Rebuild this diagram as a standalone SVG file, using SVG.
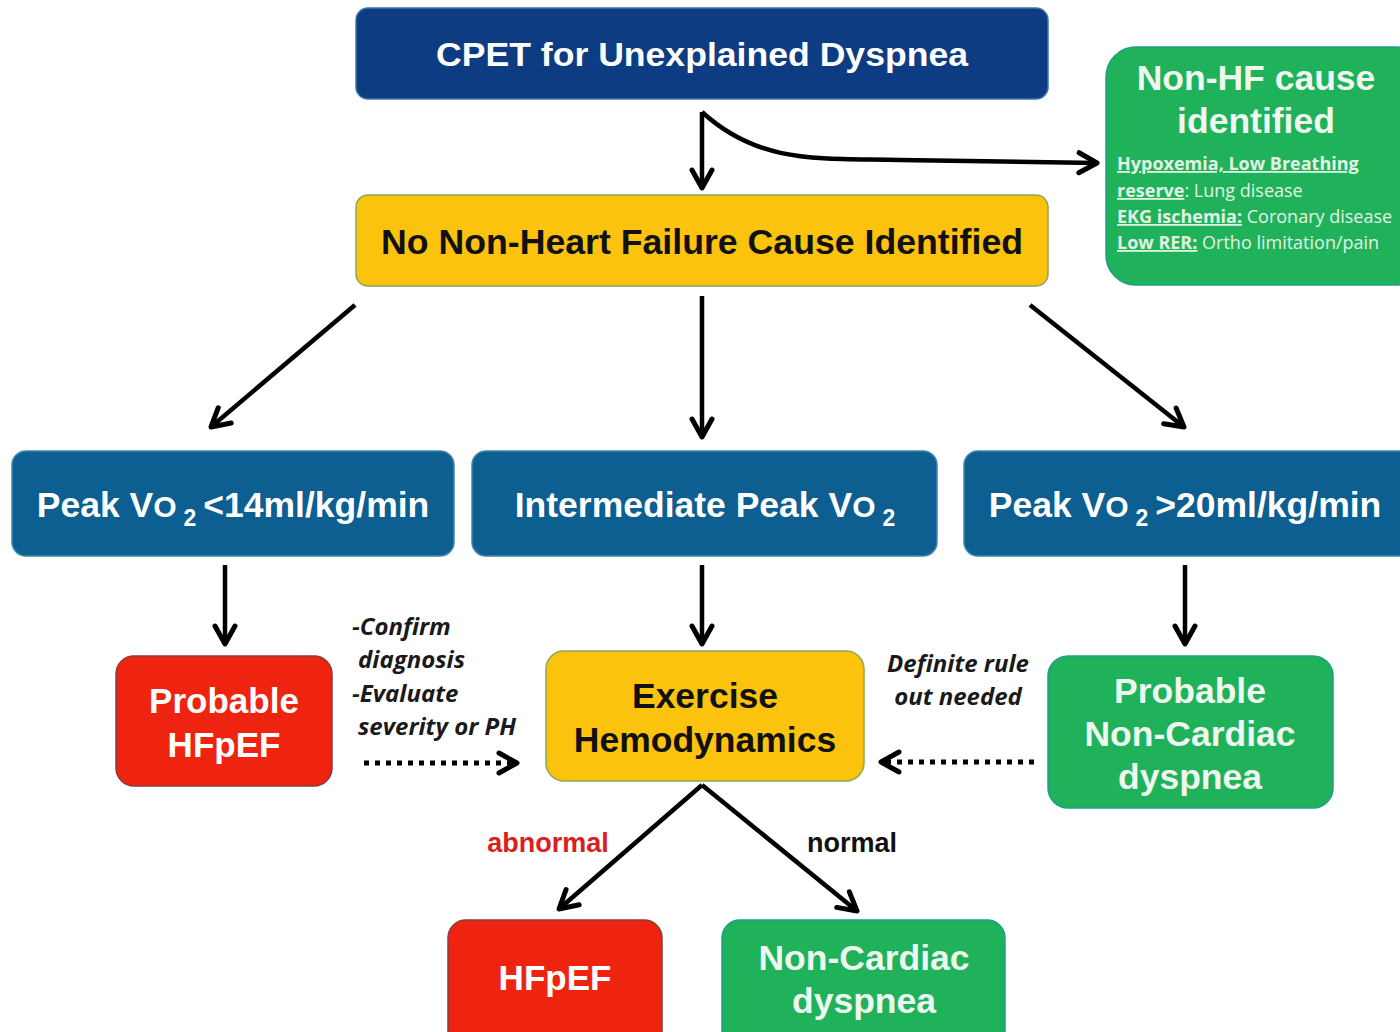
<svg xmlns="http://www.w3.org/2000/svg" width="1400" height="1032" viewBox="0 0 1400 1032">
<style>
  .navy{fill:#0e3c82;stroke:#3a78a8;stroke-width:1.5}
  .blue{fill:#0c5f90;stroke:#3f86ad;stroke-width:1.5}
  .yellow{fill:#fbc20e;stroke:#8fa653;stroke-width:1.5}
  .red{fill:#ef2410;stroke:#8b3b3b;stroke-width:1.5}
  .green{fill:#1fb25b;stroke:#1e9e86;stroke-width:1.5}
  .t{font-family:"Liberation Sans",Arial,sans-serif;font-weight:bold;text-anchor:middle}
  .w{fill:#ffffff}
  .lg{fill:#eef8ef}
  .k{fill:#111111}
  .note{font-family:"Open Sans","Liberation Sans",sans-serif;font-size:18px;fill:#e2f3e4}
  .nb{font-weight:bold;text-decoration:underline}
  .it{font-family:"Open Sans","Liberation Sans",sans-serif;font-weight:bold;font-style:italic;font-size:24px;fill:#1a1a1a}
  .arr{fill:none;stroke:#000;stroke-width:4.5;marker-end:url(#ah)}
  .dot{fill:none;stroke:#000;stroke-width:5;stroke-dasharray:5 6;marker-end:url(#ah)}
</style>
<defs>
  <marker id="ah" viewBox="0 0 26 26" refX="23" refY="13" markerWidth="26" markerHeight="26" markerUnits="userSpaceOnUse" orient="auto">
    <path d="M5,3 L23,13 L5,23" fill="none" stroke="#000" stroke-width="5" stroke-linecap="round" stroke-linejoin="round"/>
  </marker>
</defs>
<rect width="1400" height="1032" fill="#ffffff"/>

<g id="connectors">
  <path class="arr" d="M702,112 L702,188"/>
  <path class="arr" d="M702,112 C760,165 820,158 900,160 L1097,163"/>
  <path class="arr" d="M355,305 L211,427"/>
  <path class="arr" d="M702,296 L702,437"/>
  <path class="arr" d="M1030,305 L1184,427"/>
  <path class="arr" d="M225,565 L225,644"/>
  <path class="arr" d="M702,565 L702,644"/>
  <path class="arr" d="M1185,565 L1185,644"/>
  <path class="dot" d="M364,763 L517,763"/>
  <path class="dot" d="M1034,762 L881,762"/>
  <path class="arr" d="M702,785 L559,909"/>
  <path class="arr" d="M702,785 L857,911"/>
</g>

<g id="n-cpet">
  <rect class="navy" x="356" y="8" width="692" height="91" rx="12"/>
  <text class="t w" x="702" y="66" font-size="34" textLength="532" lengthAdjust="spacingAndGlyphs">CPET for Unexplained Dyspnea</text>
</g>
<g id="n-nonhf">
  <rect class="green" x="1106" y="47" width="320" height="238" rx="30"/>
  <text class="t lg" x="1256" y="90" font-size="35.5">Non-HF cause</text>
  <text class="t lg" x="1256" y="133" font-size="35.5">identified</text>
  <text class="note" x="1117" y="170"><tspan class="nb">Hypoxemia, Low Breathing</tspan></text>
  <text class="note" x="1117" y="197"><tspan class="nb">reserve</tspan>: Lung disease</text>
  <text class="note" x="1117" y="223"><tspan class="nb">EKG ischemia:</tspan> Coronary disease</text>
  <text class="note" x="1117" y="249"><tspan class="nb">Low RER:</tspan> Ortho limitation/pain</text>
</g>
<g id="n-nocause">
  <rect class="yellow" x="356" y="195" width="692" height="91" rx="12"/>
  <text class="t k" x="702" y="254" font-size="35" textLength="642" lengthAdjust="spacingAndGlyphs">No Non-Heart Failure Cause Identified</text>
</g>
<g id="n-low">
  <rect class="blue" x="12" y="451" width="442" height="105" rx="14"/>
  <text class="t w" x="233" y="517" font-size="35.5">Peak V<tspan font-size="30">O</tspan><tspan font-size="23" dx="7" dy="9">2</tspan><tspan dy="-9" dx="7">&lt;14ml/kg/min</tspan></text>
</g>
<g id="n-mid">
  <rect class="blue" x="472" y="451" width="465" height="105" rx="14"/>
  <text class="t w" x="705" y="517" font-size="35.5">Intermediate Peak V<tspan font-size="30">O</tspan><tspan font-size="23" dx="7" dy="9">2</tspan></text>
</g>
<g id="n-high">
  <rect class="blue" x="964" y="451" width="460" height="105" rx="14"/>
  <text class="t w" x="1185" y="517" font-size="35.5">Peak V<tspan font-size="30">O</tspan><tspan font-size="23" dx="7" dy="9">2</tspan><tspan dy="-9" dx="7">&gt;20ml/kg/min</tspan></text>
</g>
<g id="n-probhfpef">
  <rect class="red" x="116" y="656" width="216" height="130" rx="18"/>
  <text class="t w" x="224" y="713" font-size="35">Probable</text>
  <text class="t w" x="224" y="757" font-size="35">HFpEF</text>
</g>
<g id="l-confirm">
  <text class="it" x="352" y="635">-Confirm</text>
  <text class="it" x="358" y="668">diagnosis</text>
  <text class="it" x="352" y="702">-Evaluate</text>
  <text class="it" x="358" y="735">severity or PH</text>
</g>
<g id="n-exhemo">
  <rect class="yellow" x="546" y="651" width="318" height="130" rx="18"/>
  <text class="t k" x="705" y="708" font-size="35.5">Exercise</text>
  <text class="t k" x="705" y="752" font-size="35.5">Hemodynamics</text>
</g>
<g id="l-ruleout">
  <text class="it" x="958" y="672" text-anchor="middle">Definite rule</text>
  <text class="it" x="958" y="705" text-anchor="middle">out needed</text>
</g>
<g id="n-probnoncard">
  <rect class="green" x="1048" y="656" width="285" height="152" rx="20"/>
  <text class="t lg" x="1190" y="703" font-size="35.5">Probable</text>
  <text class="t lg" x="1190" y="746" font-size="35.5">Non-Cardiac</text>
  <text class="t lg" x="1190" y="789" font-size="35.5">dyspnea</text>
</g>
<g id="l-abnormal">
  <text class="t" x="548" y="852" font-size="27" fill="#d8201e">abnormal</text>
</g>
<g id="l-normal">
  <text class="t k" x="852" y="852" font-size="27">normal</text>
</g>
<g id="n-hfpef">
  <rect class="red" x="448" y="920" width="214" height="130" rx="18"/>
  <text class="t w" x="555" y="990" font-size="35">HFpEF</text>
</g>
<g id="n-noncard">
  <rect class="green" x="722" y="920" width="283" height="130" rx="18"/>
  <text class="t lg" x="864" y="970" font-size="35.5">Non-Cardiac</text>
  <text class="t lg" x="864" y="1013" font-size="35.5">dyspnea</text>
</g>
</svg>
